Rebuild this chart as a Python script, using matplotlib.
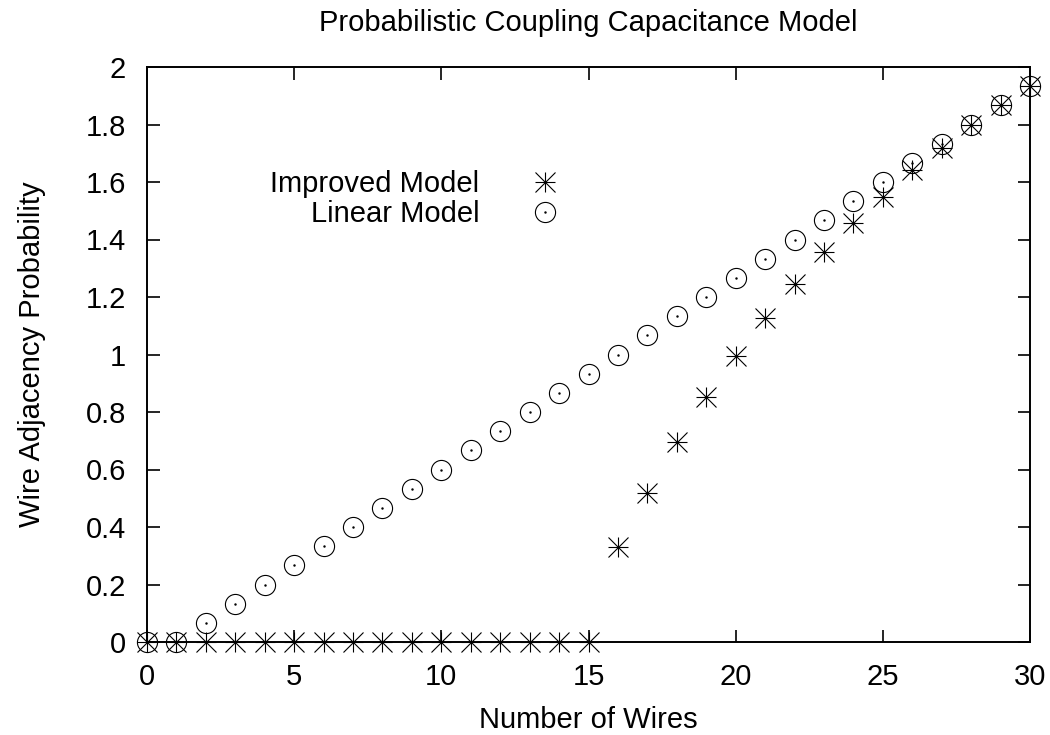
import matplotlib
matplotlib.use("Agg")
from matplotlib import pyplot as plt

plt.rcParams['font.family'] = ['Liberation Sans', 'DejaVu Sans']
plt.rcParams['font.size'] = 21
plt.rcParams['axes.titlesize'] = 21
plt.rcParams['axes.labelsize'] = 21
plt.rcParams['legend.fontsize'] = 21

# number of wires on the x axis
wires = list(range(31))

# probability
linear_model = [0, 0, 0.067, 0.133, 0.2, 0.267, 0.333, 0.4, 0.467, 0.533,
                0.6, 0.667, 0.733, 0.8, 0.867, 0.933, 1.0, 1.067, 1.133, 1.2,
                1.267, 1.333, 1.4, 1.467, 1.533, 1.6, 1.667, 1.733, 1.8,
                1.867, 1.933]
improved_model = [0, 0, 0, 0, 0, 0, 0, 0, 0, 0, 0, 0, 0, 0, 0, 0,
                  0.33, 0.52, 0.695, 0.852, 0.995, 1.126, 1.244, 1.356,
                  1.456, 1.548, 1.642, 1.72, 1.80, 1.867, 1.933]

x_ticks = [0, 5, 10, 15, 20, 25, 30]
y_ticks = [0, 0.2, 0.4, 0.6, 0.8, 1, 1.2, 1.4, 1.6, 1.8, 2]
y_tick_labels = ['0', '0.2', '0.4', '0.6', '0.8', '1', '1.2', '1.4', '1.6', '1.8', '2']

fig = plt.figure(figsize=(10.5, 7.35), dpi=100)
ax = fig.add_axes([147 / 1050, 93 / 735, 883 / 1050, 575 / 735])

msize = 14.5
mew = 0.8

# gnuplot style "*" point = plus and cross on top of each other
star_plus, = ax.plot(wires, improved_model, linestyle='none', marker='+',
                     markersize=msize, markeredgewidth=mew, color='black', clip_on=False)
star_x, = ax.plot(wires, improved_model, linestyle='none', marker='x',
                  markersize=msize, markeredgewidth=mew, color='black', clip_on=False)

# open circle with a dot in the middle
circ, = ax.plot(wires, linear_model, linestyle='none', marker='o', fillstyle='none',
                markersize=msize, markeredgewidth=mew, color='black', clip_on=False)
dot, = ax.plot(wires, linear_model, linestyle='none', marker='.',
               markersize=1.5, color='black', clip_on=False)

ax.set_xlim(0, 30)
ax.set_ylim(0, 2)
ax.set_xticks(x_ticks)
ax.set_yticks(y_ticks)
ax.set_yticklabels(y_tick_labels)
ax.tick_params(direction='in', length=9, width=1.2, top=True, right=True, pad=15)
for sp in ax.spines.values():
    sp.set_linewidth(1.4)

ax.set_title('Probabilistic Coupling Capacitance Model', pad=26)
ax.set_xlabel('Number of Wires', labelpad=11)
ax.set_ylabel('Wire Adjacency Probability', labelpad=29)

# two one-row legends so the labels come out right aligned like gnuplot's key
leg_kw = dict(loc='center right', frameon=False, markerfirst=False, numpoints=1,
              handlelength=1.0, handletextpad=1.76, borderpad=0, borderaxespad=0)
leg1 = ax.legend([(star_plus, star_x)], ['Improved Model'],
                 bbox_to_anchor=(0.4673, 0.7965), **leg_kw)
ax.add_artist(leg1)
ax.legend([(circ, dot)], ['Linear Model'],
          bbox_to_anchor=(0.4673, 0.7443), **leg_kw)

fig.savefig('out.png', dpi=100)
